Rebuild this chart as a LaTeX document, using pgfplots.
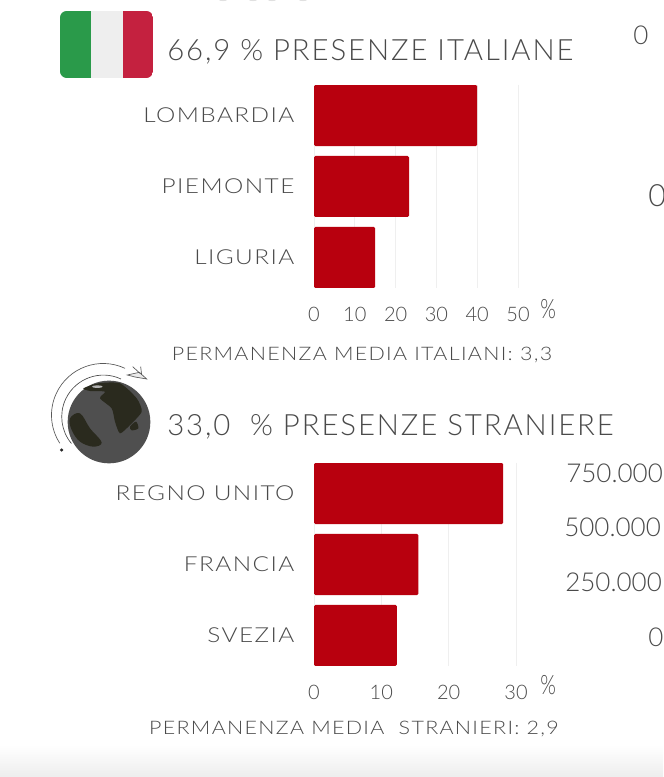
\documentclass[border=0pt]{standalone}
\usepackage{fontspec}
\setmainfont{Lato}[UprightFont=* Light]
\newfontfamily\widelab{Lato}[UprightFont=* Light,FakeStretch=1.15,LetterSpace=7]
\newfontfamily\ticklab{Lato}[UprightFont=* Light,FakeStretch=1.18,LetterSpace=7]
\newfontfamily\headfont{Lato}[UprightFont=* Light,LetterSpace=6.5]
\usepackage{pgfplots}
\pgfplotsset{compat=1.18}
\definecolor{barred}{HTML}{B8000E}
\definecolor{txt}{HTML}{4A4A4A}
\definecolor{gridc}{HTML}{EFEFEF}
\definecolor{fgreen}{HTML}{2A9A4A}
\definecolor{fwhite}{HTML}{EEEEEE}
\definecolor{fred}{HTML}{C4213F}
\definecolor{gl}{HTML}{4F4F4F}
\definecolor{land}{HTML}{2A2A1E}
\newcommand{\PX}[2]{({#1*0.75pt},{(777-#2)*0.75pt})}
\newcommand{\Z}[2]{({(40+#1/3)*0.75pt},{(422-#2/3)*0.75pt})}
\pgfplotsset{panel/.style={
  scale only axis, anchor=north west,
  xbar, y dir=reverse,
  ymin=-0.43, ymax=2.43, ytick={0,1,2},
  height=152.25pt, xmin=0,
  bar width=45.75pt,
  axis x line=bottom, axis y line=left,
  axis line style={draw=none}, tick style={draw=none},
  xmajorgrids, grid style={gridc,line width=0.6pt},
  tick label style={font=\fontsize{15pt}{15pt}\selectfont,text=txt},
  xticklabel style={yshift=-9pt},
  yticklabel style={xshift=-9pt,font=\fontsize{15.5pt}{15.5pt}\ticklab},
  /pgf/number format/assume math mode=true,
}}
\begin{document}
\begin{tikzpicture}
\clip (0,0) rectangle (497.25pt,582.75pt);
\path[fill=white] (0,0) rectangle (497.25pt,582.75pt);
\shade[top color=white,bottom color=black!7] \PX{0}{745} rectangle \PX{663}{777};
% traces of text cut off at the top edge
\foreach \x in {223,253,272,303}
  \fill[black!12] \PX{\x}{0} ellipse (3pt and 0.8pt);
% flag
\begin{scope}
\clip[rounded corners=5pt] \PX{60}{11} rectangle \PX{153}{78};
\fill[fgreen] \PX{60}{11} rectangle \PX{91}{78};
\fill[fwhite] \PX{91}{11} rectangle \PX{123}{78};
\fill[fred] \PX{123}{11} rectangle \PX{153}{78};
\end{scope}
% globe
\fill[gl] \PX{109}{422} circle (31pt);
\fill[land] plot[smooth cycle,tension=0.6] coordinates {\Z{90}{190} \Z{120}{175} \Z{150}{220} \Z{185}{262} \Z{160}{275} \Z{120}{260} \Z{95}{225}};
\fill[land] plot[smooth cycle,tension=0.4] coordinates {\Z{130}{100} \Z{175}{85} \Z{240}{85} \Z{290}{130} \Z{305}{170} \Z{270}{210} \Z{240}{235} \Z{225}{200} \Z{215}{160} \Z{180}{130} \Z{195}{110} \Z{150}{108}};
\fill[land] plot[smooth cycle] coordinates {\Z{270}{215} \Z{288}{200} \Z{295}{220} \Z{275}{226}};
\fill[black!30] \Z{172}{95} ellipse (4pt and 1pt);
\draw[black!70,line width=0.5pt] \Z{243}{72} arc[start angle=65,end angle=220,radius=31.25pt];
\draw[black!65,line width=0.5pt] \Z{255}{40} arc[start angle=65,end angle=213,radius=38.75pt];
\fill[black!85] \Z{65}{285} circle (1.3pt);
\draw[black!65,fill=black!8,line width=0.5pt] \Z{262}{60} -- \Z{298}{52} -- \Z{320}{72} -- \Z{285}{66} -- cycle;
\draw[black!65,line width=0.5pt] \Z{278}{35} -- \Z{300}{55} \Z{302}{35} -- \Z{305}{60};
% headings
\node[anchor=base west,text=txt,inner sep=0pt,font=\fontsize{22pt}{22pt}\headfont] at \PX{167}{61} {66,9 \% PRESENZE ITALIANE};
\node[anchor=base west,text=txt,inner sep=0pt,font=\fontsize{22pt}{22pt}\headfont] at \PX{167}{436} {33,0\ \ \% PRESENZE STRANIERE};
\node[anchor=base,text=txt,inner sep=0pt,font=\fontsize{14pt}{14pt}\widelab] at \PX{362}{361} {PERMANENZA MEDIA ITALIANI: 3,3};
\node[anchor=base,text=txt,inner sep=0pt,font=\fontsize{14pt}{14pt}\widelab] at \PX{354}{735} {PERMANENZA MEDIA\ \ STRANIERI: 2,9};
\node[anchor=base west,text=txt,inner sep=0pt,font=\fontsize{20pt}{20pt}\selectfont] at \PX{540}{319} {\scalebox{0.75}[1]{\%}};
\node[anchor=base west,text=txt,inner sep=0pt,font=\fontsize{20pt}{20pt}\selectfont] at \PX{540}{695} {\scalebox{0.75}[1]{\%}};
% fragments at right
\foreach \t/\x/\y in {0/633/45,750.000/566/483,500.000/564/537,250.000/565/592,0/648/647}
  \node[anchor=base west,text=txt,inner sep=0pt,font=\fontsize{19.5pt}{19.5pt}\selectfont] at \PX{\x}{\y} {\t};
\node[anchor=base west,text=txt,inner sep=0pt,font=\fontsize{23pt}{23pt}\selectfont] at \PX{648}{207} {0};
% chart 1
\begin{axis}[panel, at={(235.5pt,519pt)}, width=153pt, xmax=50,
  xtick={0,10,20,30,40,50},
  yticklabels={LOMBARDIA,PIEMONTE,LIGURIA}]
\addplot[fill=barred,draw=none,rounded corners=1pt] coordinates {(40,0) (23.3,1) (15,2)};
\end{axis}
% chart 2
\begin{axis}[panel, at={(235.5pt,235.5pt)}, width=151.5pt, xmax=30,
  xtick={0,10,20,30},
  yticklabels={REGNO UNITO,FRANCIA,SVEZIA}]
\addplot[fill=barred,draw=none,rounded corners=1pt] coordinates {(28.1,0) (15.5,1) (12.3,2)};
\end{axis}
\end{tikzpicture}
\end{document}
